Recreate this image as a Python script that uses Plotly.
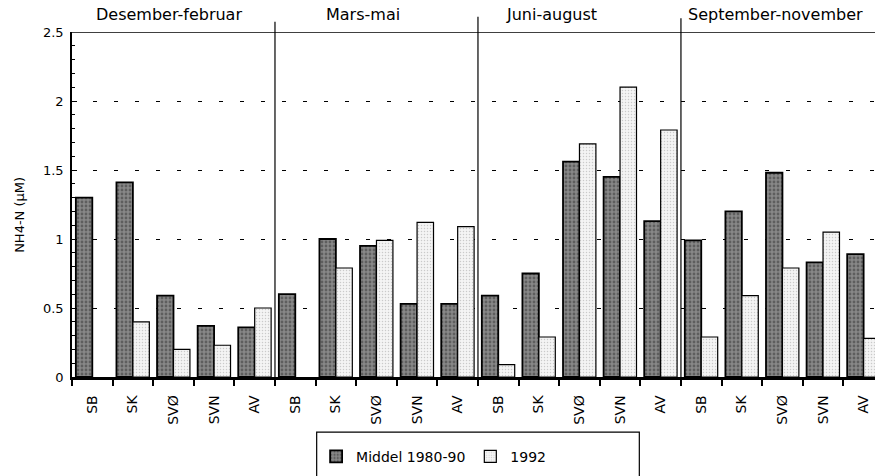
import plotly.graph_objects as go

seasons = ["Desember-februar", "Mars-mai", "Juni-august", "September-november"]
stations = ["SB", "SK", "SVØ", "SVN", "AV"]
tick_labels = stations * 4

middel_1980_90 = [1.30, 1.41, 0.59, 0.37, 0.36,
                  0.60, 1.00, 0.95, 0.53, 0.53,
                  0.59, 0.75, 1.56, 1.45, 1.13,
                  0.99, 1.20, 1.48, 0.83, 0.89]
year_1992 = [None, 0.40, 0.20, 0.23, 0.50,
             None, 0.79, 0.99, 1.12, 1.09,
             0.09, 0.29, 1.69, 2.10, 1.79,
             0.29, 0.59, 0.79, 1.05, 0.28]

season_label_x = [1.89, 6.67, 11.3, 16.82]

x = list(range(len(tick_labels)))
FONT = "DejaVu Sans"

fig = go.Figure()
fig.add_trace(go.Bar(
    x=x, y=middel_1980_90, name="Middel 1980-90",
    marker=dict(color="#777777",
                line=dict(color="black", width=1.8),
                pattern=dict(shape=".", fgcolor="#333333", bgcolor="#888888",
                             size=4, solidity=0.4)),
))
fig.add_trace(go.Bar(
    x=x, y=year_1992, name="1992",
    marker=dict(color="white",
                line=dict(color="black", width=1.2),
                pattern=dict(shape=".", fgcolor="#a0a0a0", bgcolor="#f4f4f4",
                             size=3, solidity=0.2)),
))

shapes = []
shapes.append(dict(type="line", xref="x", yref="y", x0=-0.5, x1=19.5, y0=2.5, y1=2.5,
                   line=dict(color="black", width=1.5)))
for sx, top in zip([4.5, 9.5, 14.5], [1.030, 1.044, 1.040]):
    shapes.append(dict(type="line", xref="x", yref="paper", x0=sx, x1=sx, y0=0, y1=top,
                       line=dict(color="black", width=1.2)))
shapes.append(dict(type="rect", xref="paper", yref="paper",
                   x0=0.3047, x1=0.7065, y0=-0.1596, y1=-0.40,
                   line=dict(color="black", width=1.2), fillcolor="rgba(0,0,0,0)"))

annotations = []
for s, sxl in zip(seasons, season_label_x):
    annotations.append(dict(text=s, x=sxl, xref="x", y=1.052, yref="paper",
                            showarrow=False, xanchor="center", yanchor="middle",
                            font=dict(family=FONT, size=16, color="black")))
annotations.append(dict(text="NH4-N (µM)", x=(20 - 72) / 803.0, xref="paper",
                        y=0.47, yref="paper", showarrow=False, textangle=-90,
                        xanchor="center", yanchor="middle",
                        font=dict(family=FONT, size=13, color="black")))

fig.update_layout(
    width=875, height=476,
    margin=dict(l=72, r=0, t=32, b=99, pad=0),
    paper_bgcolor="white", plot_bgcolor="white",
    barmode="group", bargap=0.19, bargroupgap=0.0,
    font=dict(family=FONT, size=13, color="black"),
    shapes=shapes, annotations=annotations,
    showlegend=True,
    legend=dict(orientation="h", x=0.304, y=-0.185, xanchor="left", yanchor="top",
                bgcolor="rgba(0,0,0,0)", borderwidth=0,
                font=dict(family=FONT, size=14, color="black"),
                itemwidth=30, traceorder="normal"),
    xaxis=dict(range=[-0.5, 19.28], tickvals=x, ticktext=tick_labels,
               tickangle=-90, ticks="", showgrid=False, zeroline=False,
               showline=True, linecolor="black", linewidth=2.5,
               ticklabelstandoff=10,
               tickfont=dict(family=FONT, size=14, color="black"),
               minor=dict(tick0=-0.5, dtick=1, ticks="outside", ticklen=6,
                          tickcolor="black", tickwidth=1.5, showgrid=False)),
    yaxis=dict(range=[0, 2.5], tickvals=[0, 0.5, 1, 1.5, 2, 2.5],
               ticktext=["0", "0.5", "1", "1.5", "2", "2.5"],
               ticks="inside", ticklen=5, tickcolor="black", tickwidth=1,
               showgrid=True, gridcolor="black", gridwidth=1, griddash="4px,17px",
               zeroline=False, showline=True, linecolor="black", linewidth=1.5,
               ticklabelstandoff=4,
               tickfont=dict(family=FONT, size=13, color="black"),
               minor=dict(dtick=0.1, ticks="inside", ticklen=3, tickcolor="black",
                          tickwidth=1, showgrid=False)),
)

fig.write_html("out.html", config={"displayModeBar": False},
               post_script="document.body.style.margin='0px';")
